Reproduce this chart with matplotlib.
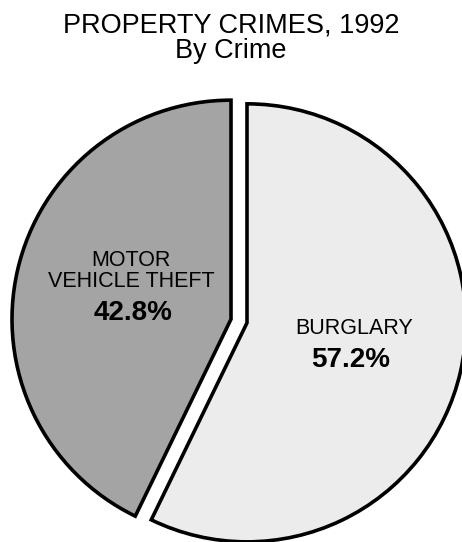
import matplotlib.pyplot as plt

# data
categories = ['BURGLARY', 'MOTOR\nVEHICLE THEFT']
shares = [57.2, 42.8]
pct_labels = ['57.2%', '42.8%']
colors = ['#ececec', '#a4a4a4']

W, H = 462, 542
fig = plt.figure(figsize=(W / 100, H / 100), dpi=100)
ax = fig.add_axes([0, 0, 1, 1])

font = 'Liberation Sans'

# pie drawn in pixel units (y up); explode is in the same units
cx, cy, r = 239, H - 321, 219
wedges, _ = ax.pie(shares, startangle=90, counterclock=False, colors=colors,
                   center=(cx, cy), radius=r, explode=[8.2, 8.2],
                   wedgeprops=dict(edgecolor='black', linewidth=2.6,
                                   joinstyle='miter'))

ax.set_xlim(0, W)
ax.set_ylim(0, H)
ax.set_aspect('equal')
ax.axis('off')

# titles
fig.text(0.5, 1 - 25 / H, 'PROPERTY CRIMES, 1992', ha='center', va='center',
         fontsize=19.5, family=font)
fig.text(0.5, 1 - 51 / H, 'By Crime', ha='center', va='center',
         fontsize=19.5, family=font)

# slice labels
ax.text(354, H - 328, categories[0], ha='center', va='center',
        fontsize=15.5, family=font)
ax.text(351, H - 360, pct_labels[0], ha='center', va='center',
        fontsize=20, fontweight='bold', family=font)
ax.text(131, H - 271, categories[1], ha='center', va='center',
        fontsize=15.5, family=font, linespacing=1.0)
ax.text(133, H - 313, pct_labels[1], ha='center', va='center',
        fontsize=20, fontweight='bold', family=font)

fig.savefig('out.png', dpi=100)
